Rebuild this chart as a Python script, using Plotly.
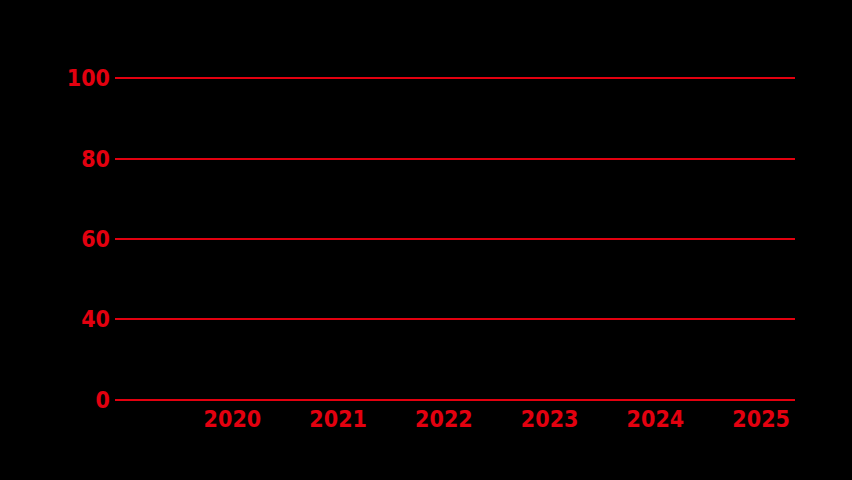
import plotly.graph_objects as go

# Årtal och axeltexter
years = [2020, 2021, 2022, 2023, 2024, 2025]
year_labels = ["2020", "2021", "2022", "2023", "2024", "2025"]
y_tick_pos = [0, 1, 2, 3, 4]
y_tick_labels = ["0", "40", "60", "80", "100"]
values = [None, None, None, None, None, None]

red = "#e3000f"
font = dict(family="DejaVu Sans Condensed, sans-serif", size=23, color=red)

fig = go.Figure()

fig.add_trace(go.Scatter(
    x=years,
    y=values,
    mode="lines",
    line=dict(color=red),
    showlegend=False
))

fig.update_layout(
    width=852,
    height=480,
    paper_bgcolor="black",
    plot_bgcolor="black",
    margin=dict(l=115, r=57, t=76, b=78),
    font=font,
    showlegend=False
)

fig.update_xaxes(
    range=[2018.89, 2025.32],
    tickvals=years,
    ticktext=["<b>%s</b>" % t for t in year_labels],
    showgrid=False,
    zeroline=False,
    showline=False,
    ticks="",
    ticklabelstandoff=1,
    tickfont=font
)

fig.update_yaxes(
    range=[-0.03, 4.03],
    tickvals=y_tick_pos,
    ticktext=["<b>%s</b>" % t for t in y_tick_labels],
    showgrid=True,
    gridcolor=red,
    gridwidth=2,
    zeroline=False,
    showline=False,
    ticks="",
    ticklabelstandoff=4,
    tickfont=font
)

fig.write_html(
    "out.html",
    config={"displayModeBar": False},
    post_script="document.body.style.margin='0';document.body.style.background='black';"
)
